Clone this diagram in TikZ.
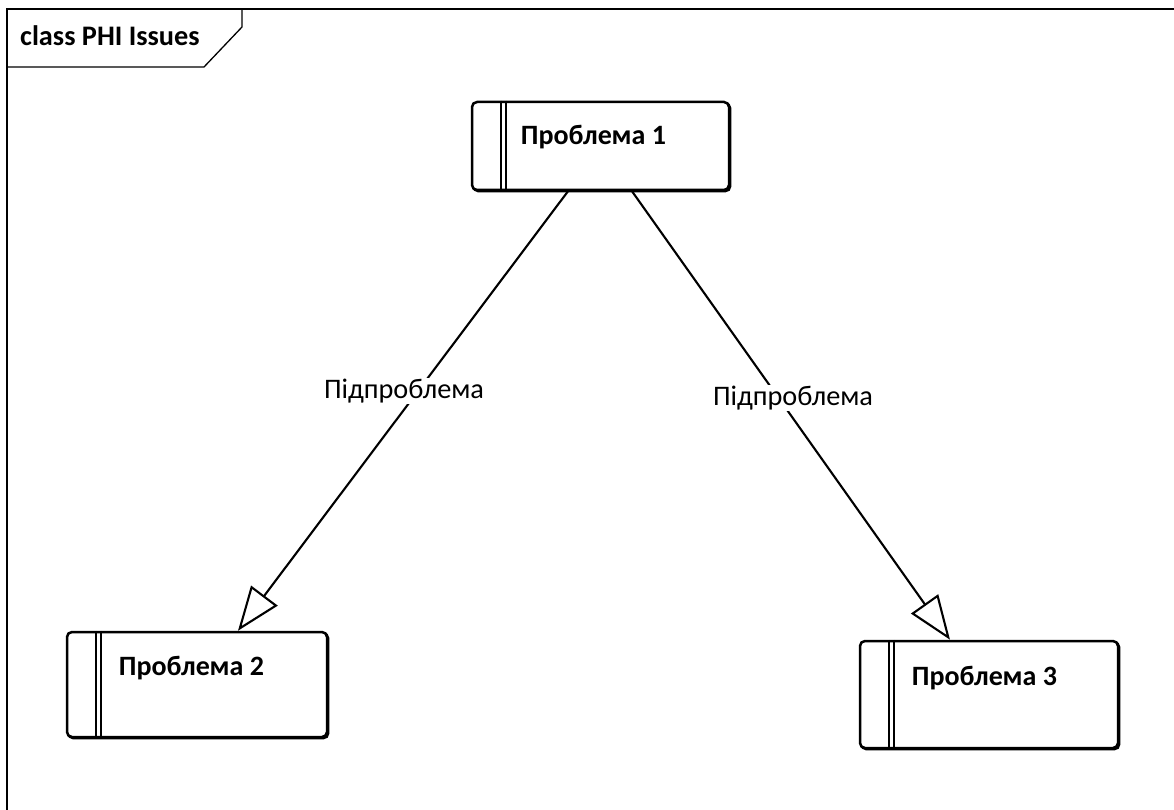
\documentclass[tikz,border=0pt]{standalone}
\usepackage{fontspec}
\setmainfont{Carlito}
\usetikzlibrary{arrows.meta,shadows}
\begin{document}
\begin{tikzpicture}[x=1pt,y=-1pt,
  frameline/.style={line width=1.3pt,draw=black},
  classbox/.style={draw=black,fill=white,line width=2.5pt,rounded corners=5pt,
    general shadow={shadow xshift=1.3pt,shadow yshift=-1.3pt,draw=black,line width=2.2pt,rounded corners=5pt}},
  barline/.style={line width=1.6pt},
  boxtext/.style={font=\fontsize{28}{33}\selectfont\bfseries,anchor=west,inner sep=0pt},
  edgetext/.style={font=\fontsize{28.3}{33}\selectfont,fill=white,inner sep=1pt,anchor=base},
  generalization/.style={line width=2.1pt,-{Triangle[open,length=44pt,width=33pt,line width=2.1pt]}}
]
\useasboundingbox (0,0) rectangle (1174,810);

% diagram frame with its name tab
\draw[frameline] (7,830) -- (7,9) -- (1190,9);
\draw[frameline] (7,67) -- (204,67) -- (242,27) -- (242,9);
\node[font=\fontsize{28.3}{33}\selectfont\bfseries,anchor=base west,inner sep=0pt] (title) at (20,46) {class PHI Issues};

% classes
\node[classbox,minimum width=257pt,minimum height=88pt] (b1) at (600.5,146) {};
\node[classbox,minimum width=260pt,minimum height=105pt] (b2) at (197,684.5) {};
\node[classbox,minimum width=258pt,minimum height=107pt] (b3) at (989,694.5) {};

\foreach \b in {b1,b2,b3}{
  \draw[barline] ([xshift=30pt]\b.north west) -- ([xshift=30pt]\b.south west);
  \draw[barline] ([xshift=35pt]\b.north west) -- ([xshift=35pt]\b.south west);
}

\node[boxtext] (t1) at ([xshift=50pt,yshift=9pt]b1.west) {Проблема 1};
\node[boxtext] (t2) at ([xshift=53pt,yshift=16pt]b2.west) {Проблема 2};
\node[boxtext] (t3) at ([xshift=53pt,yshift=16pt]b3.west) {Проблема 3};

% generalization connectors
\draw[generalization] ([xshift=-32.5pt]b1.south) -- ([xshift=41pt]b2.north);
\draw[generalization] ([xshift=31.5pt]b1.south) -- ([xshift=-39pt]b3.north);

\node[edgetext] (l1) at (404,398) {Підпроблема};
\node[edgetext] (l2) at (793,405) {Підпроблема};
\end{tikzpicture}
\end{document}
